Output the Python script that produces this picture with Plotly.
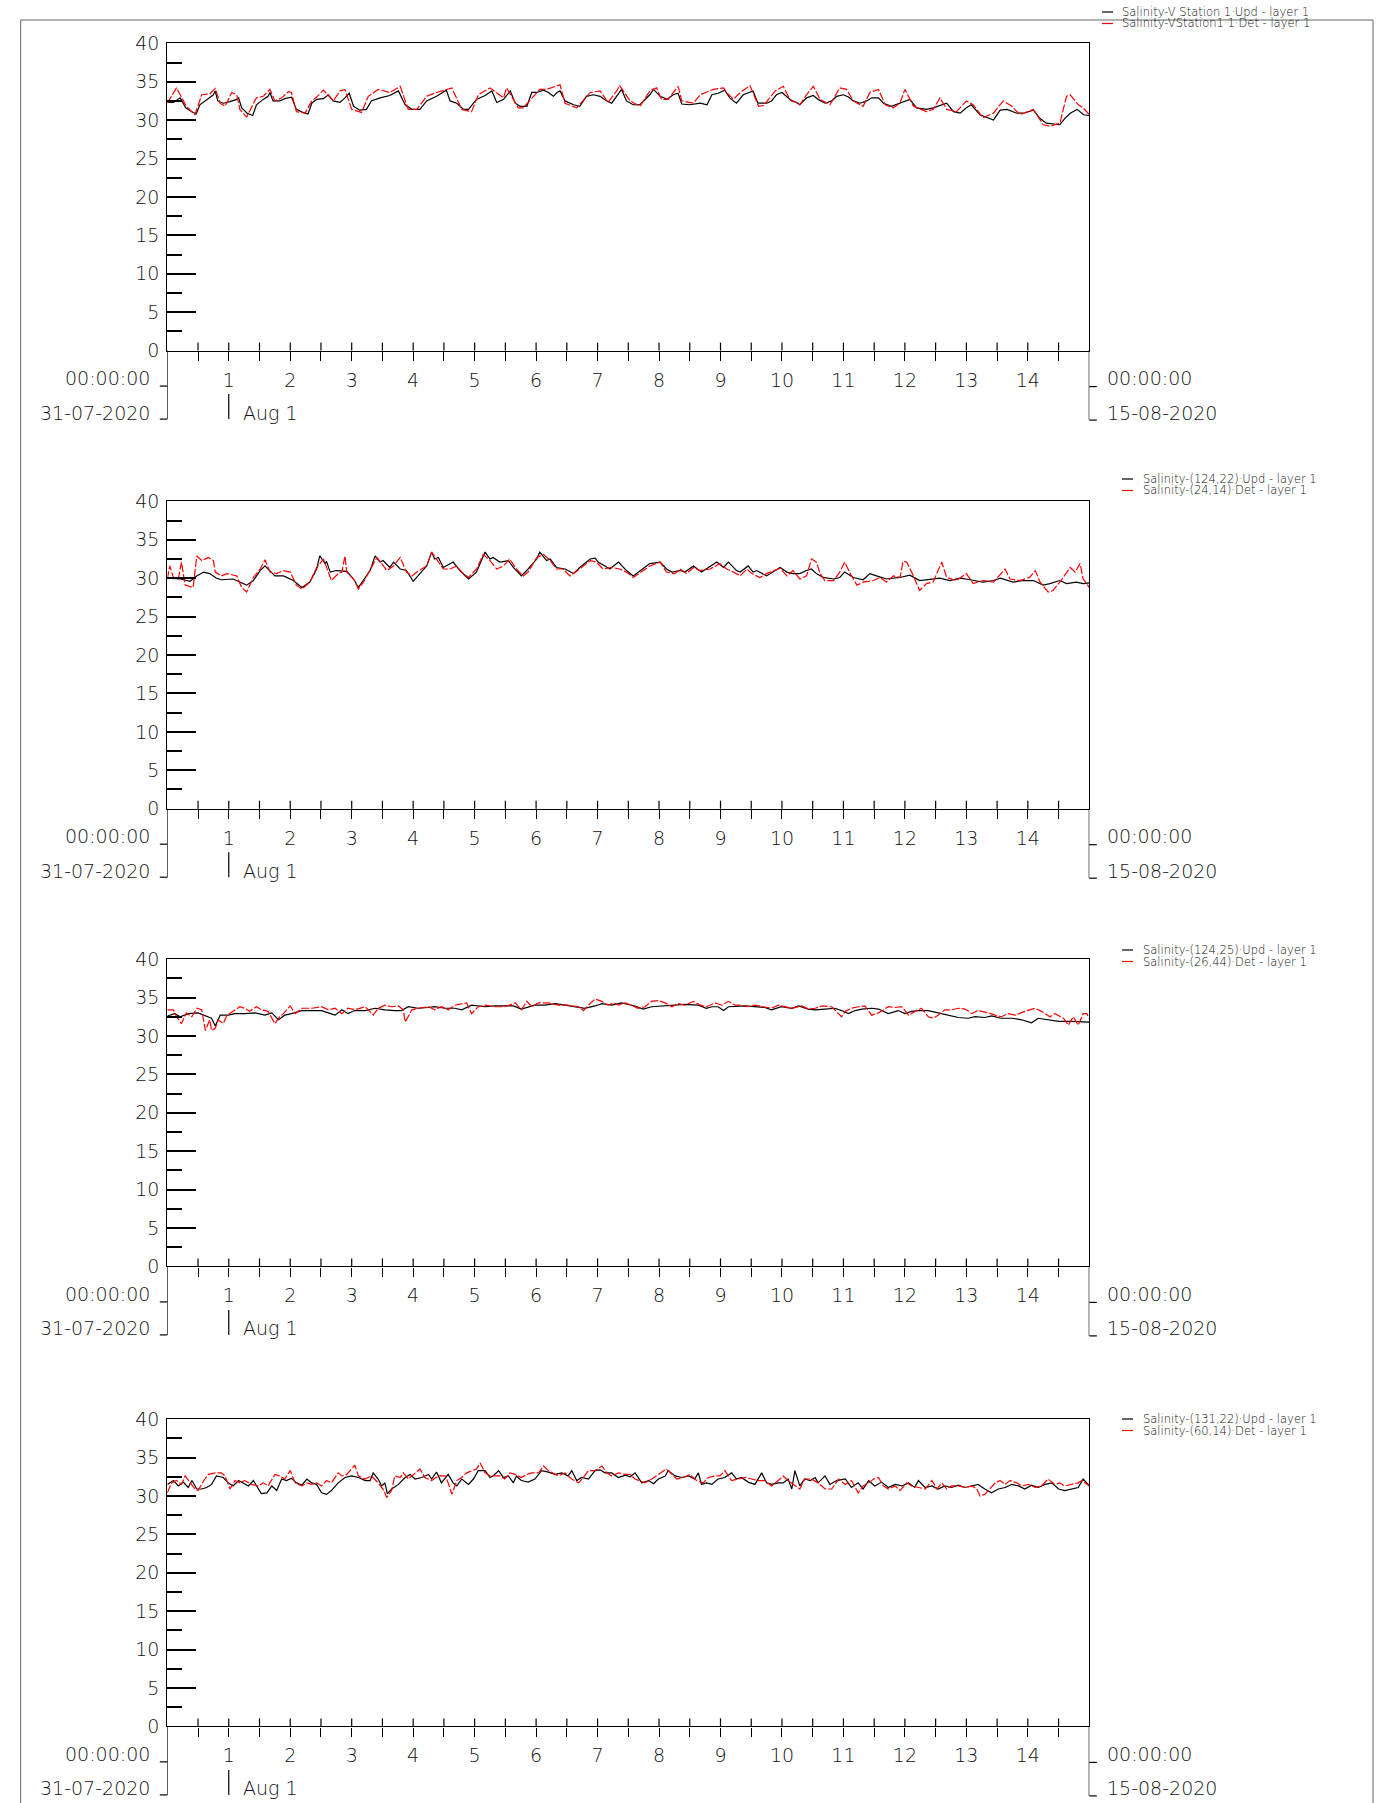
import plotly.graph_objects as go

W, H = 1381, 1803
FONT = "DejaVu Sans, sans-serif"

# ---------------- data (day offset from 31-07-2020 00:00, salinity) ----------------
p1_upd = [(0,32.3),(0.1,32.3),(0.21,32.9),(0.3,31.6),(0.4,31.1),(0.47,30.8),(0.53,32.0),(0.64,32.7),(0.75,33.3),(0.78,33.8),
 (0.82,32.5),(0.91,32.2),(1.02,32.4),(1.13,32.7),(1.16,32.9),(1.21,31.6),(1.30,30.9),(1.39,30.6),(1.45,32.0),(1.56,32.7),
 (1.64,33.1),(1.67,33.6),(1.72,32.5),(1.83,32.5),(1.91,32.8),(2.02,33.0),(2.10,31.4),(2.21,31.0),(2.29,30.8),(2.35,32.2),
 (2.43,32.7),(2.54,32.8),(2.62,33.3),(2.70,32.5),(2.81,32.3),(2.89,32.9),(2.96,33.5),(3.03,31.8),(3.13,31.3),(3.24,31.4),
 (3.32,32.5),(3.46,32.9),(3.62,33.2),(3.76,33.8),(3.87,32.0),(3.98,31.4),(4.11,31.4),(4.22,32.5),(4.38,33.1),(4.54,33.9),
 (4.60,32.5),(4.71,32.2),(4.82,31.4),(4.90,31.4),(5.03,32.7),(5.17,33.2),(5.28,33.8),(5.36,32.3),(5.47,32.7),(5.58,33.8),
 (5.66,32.2),(5.74,31.8),(5.85,31.8),(5.93,33.6),(6.01,33.6),(6.12,33.9),(6.20,33.6),(6.28,33.1),(6.34,33.6),(6.39,33.8),
 (6.47,32.5),(6.61,32.0),(6.71,31.8),(6.82,33.1),(6.93,33.3),(7.04,33.1),(7.15,32.5),(7.23,32.2),(7.31,33.1),(7.39,34.0),
 (7.47,32.5),(7.58,32.0),(7.69,32.0),(7.85,33.3),(7.91,34.0),(8.02,33.1),(8.13,32.7),(8.23,33.3),(8.31,33.5),(8.37,32.1),
 (8.5,32.0),(8.67,32.2),(8.78,32.0),(8.86,33.3),(8.96,33.5),(9.07,33.9),(9.15,32.9),(9.26,32.2),(9.37,33.3),(9.45,33.5),
 (9.53,33.8),(9.61,32.2),(9.75,32.2),(9.83,32.5),(9.91,33.3),(10.0,33.6),(10.08,33.1),(10.16,32.5),(10.24,32.3),(10.29,32.0),
 (10.4,32.9),(10.51,33.2),(10.59,32.7),(10.7,32.2),(10.81,32.5),(10.89,33.1),(11.0,33.3),(11.08,33.0),(11.16,32.5),(11.27,32.2),
 (11.38,32.5),(11.46,32.9),(11.57,32.9),(11.65,32.2),(11.78,31.8),(11.92,32.2),(12.08,32.7),(12.19,31.6),(12.35,31.4),(12.46,31.6),
 (12.57,31.9),(12.68,32.2),(12.79,31.1),(12.9,30.9),(13.0,31.6),(13.08,32.0),(13.22,30.7),(13.44,30.0),(13.55,31.3),(13.66,31.4),
 (13.82,30.9),(13.93,30.9),(14.09,31.3),(14.2,30.2),(14.3,29.6),(14.52,29.4),(14.6,30.2),(14.69,30.9),(14.8,31.4),(14.91,30.7),
 (15.0,30.6)]

p1_det = [(0,32.2),(0.15,34.2),(0.31,31.8),(0.45,30.7),(0.56,33.3),(0.69,33.4),(0.78,34.1),(0.86,32.2),(0.94,31.8),(1.05,33.6),
 (1.13,33.3),(1.18,31.4),(1.29,30.4),(1.45,32.9),(1.56,33.1),(1.67,34.0),(1.75,32.5),(1.86,32.9),(1.97,33.7),(2.02,33.6),
 (2.10,31.1),(2.24,30.9),(2.35,32.5),(2.43,33.0),(2.54,33.9),(2.70,32.5),(2.81,33.8),(2.89,34.0),(3.0,31.4),(3.16,31.0),
 (3.27,33.1),(3.43,34.0),(3.62,33.6),(3.79,34.4),(3.92,31.4),(4.06,31.4),(4.22,33.1),(4.38,33.6),(4.63,34.2),(4.79,31.4),
 (4.95,31.1),(5.06,33.3),(5.25,34.2),(5.47,32.9),(5.52,34.2),(5.71,31.6),(5.79,31.6),(5.95,33.1),(6.06,34.0),(6.17,34.0),
 (6.39,34.6),(6.47,32.2),(6.66,31.6),(6.88,33.6),(7.04,33.8),(7.17,32.3),(7.31,33.8),(7.36,34.5),(7.53,32.5),(7.69,31.8),
 (7.85,33.8),(7.96,34.2),(8.04,32.7),(8.15,32.7),(8.31,34.4),(8.37,32.5),(8.56,32.2),(8.67,33.3),(8.88,34.0),(9.05,34.2),
 (9.10,33.6),(9.21,32.7),(9.32,33.6),(9.48,34.5),(9.62,31.8),(9.70,31.9),(9.89,33.8),(10.02,34.4),(10.13,32.7),(10.29,32.0),
 (10.40,33.3),(10.51,34.4),(10.62,32.7),(10.78,32.0),(10.94,34.2),(11.05,34.0),(11.16,32.5),(11.32,31.8),(11.43,33.6),(11.57,34.0),
 (11.68,32.0),(11.81,31.6),(11.92,32.2),(12.0,34.0),(12.14,31.8),(12.35,31.1),(12.46,31.4),(12.57,32.9),(12.68,31.4),(12.84,31.1),
 (13.0,32.5),(13.11,32.0),(13.27,30.3),(13.44,30.9),(13.6,32.5),(13.74,31.8),(13.87,30.7),(14.09,31.4),(14.25,29.4),(14.36,29.2),
 (14.52,29.6),(14.63,33.1),(14.69,33.3),(14.82,32.0),(14.9,31.6),(15.0,30.7)]

p2_upd = [(0,30.0),(0.21,29.9),(0.37,29.6),(0.48,30.3),(0.59,30.8),(0.69,30.6),(0.80,30.0),(0.88,29.8),(1.07,29.9),(1.29,29.1),
 (1.40,29.7),(1.51,31.0),(1.59,31.6),(1.67,31.0),(1.75,30.3),(1.89,30.3),(2.05,29.7),(2.19,28.8),(2.32,29.5),(2.43,31.2),
 (2.48,32.9),(2.57,31.9),(2.59,32.2),(2.65,30.8),(2.75,31.0),(2.92,30.9),(3.03,29.9),(3.11,28.8),(3.19,29.7),(3.30,31.0),
 (3.38,32.9),(3.46,32.1),(3.51,32.3),(3.62,31.4),(3.68,32.1),(3.79,31.2),(3.89,31.0),(4.0,29.6),(4.11,30.6),(4.22,31.6),
 (4.30,33.4),(4.35,32.5),(4.41,32.7),(4.49,31.4),(4.65,32.1),(4.76,31.0),(4.90,29.9),(5.03,30.8),(5.17,33.4),(5.25,32.5),
 (5.30,32.7),(5.41,32.1),(5.55,32.3),(5.63,31.4),(5.76,30.3),(5.87,31.2),(6.01,32.5),(6.06,33.4),(6.17,32.3),(6.23,32.5),
 (6.33,31.4),(6.47,31.2),(6.61,30.6),(6.71,31.4),(6.88,32.5),(6.96,32.6),(7.01,32.1),(7.12,31.6),(7.20,31.2),(7.34,32.1),
 (7.47,31.0),(7.58,30.3),(7.74,31.2),(7.85,31.9),(8.02,32.1),(8.12,31.2),(8.21,30.8),(8.34,31.0),(8.42,30.8),(8.56,31.6),
 (8.69,30.8),(8.94,32.1),(9.05,31.4),(9.13,32.1),(9.26,31.0),(9.32,30.8),(9.45,31.6),(9.53,30.8),(9.59,31.0),(9.75,30.3),
 (9.97,31.4),(10.08,30.8),(10.18,30.6),(10.29,30.6),(10.4,31.0),(10.48,31.2),(10.56,30.6),(10.67,30.1),(10.84,29.9),(10.94,30.1),
 (11.02,30.8),(11.16,30.1),(11.32,29.8),(11.43,30.6),(11.54,30.3),(11.70,29.9),(11.92,30.1),(12.08,30.4),(12.24,29.7),(12.46,29.9),
 (12.57,30.0),(12.73,29.7),(12.9,30.0),(13.06,29.8),(13.27,29.5),(13.44,29.7),(13.55,30.0),(13.76,29.5),(13.93,29.7),(14.09,29.7),
 (14.25,29.1),(14.36,29.3),(14.52,29.7),(14.63,29.3),(14.79,29.5),(14.9,29.3),(15.0,29.4)]

p2_det = [(0,29.9),(0.04,31.6),(0.10,30.1),(0.18,29.9),(0.23,32.1),(0.29,29.1),(0.42,28.8),(0.48,32.9),(0.56,32.3),(0.67,32.7),
 (0.75,32.3),(0.78,30.8),(0.88,30.3),(0.97,30.6),(1.13,30.3),(1.21,28.8),(1.29,28.2),(1.40,30.1),(1.51,31.2),(1.59,32.4),
 (1.67,30.8),(1.78,30.6),(1.89,31.0),(2.0,30.8),(2.10,29.1),(2.19,28.6),(2.32,29.5),(2.43,31.4),(2.54,32.5),(2.62,30.8),
 (2.67,29.7),(2.78,30.6),(2.84,30.8),(2.89,32.9),(2.92,30.8),(3.03,29.9),(3.11,28.6),(3.19,29.5),(3.30,31.2),(3.41,32.7),
 (3.49,31.9),(3.57,31.0),(3.68,31.6),(3.79,32.7),(3.89,30.8),(3.98,30.3),(4.06,30.8),(4.22,31.6),(4.30,33.4),(4.38,32.5),
 (4.49,31.2),(4.60,31.2),(4.71,31.6),(4.79,30.8),(4.90,30.1),(5.03,31.2),(5.14,33.1),(5.25,32.3),(5.36,31.2),(5.47,31.6),
 (5.57,32.5),(5.68,31.2),(5.79,30.3),(5.87,30.8),(6.01,32.7),(6.12,33.1),(6.23,32.3),(6.33,31.2),(6.44,31.2),(6.55,30.3),
 (6.71,31.2),(6.88,32.3),(6.98,32.1),(7.09,31.2),(7.23,31.4),(7.36,31.2),(7.47,30.8),(7.58,30.1),(7.74,31.0),(7.85,31.6),
 (8.02,32.1),(8.12,30.8),(8.26,30.6),(8.34,31.2),(8.45,30.6),(8.56,31.4),(8.67,31.0),(8.83,31.2),(8.99,31.9),(9.10,31.2),
 (9.21,30.8),(9.32,30.3),(9.43,31.2),(9.51,30.6),(9.64,30.1),(9.75,30.6),(9.97,31.3),(10.08,30.3),(10.18,31.0),(10.29,29.9),
 (10.40,30.3),(10.48,32.5),(10.56,32.1),(10.62,30.6),(10.70,29.7),(10.84,29.7),(10.94,30.8),(11.02,32.1),(11.11,30.6),(11.22,29.1),
 (11.32,29.5),(11.49,29.7),(11.59,30.1),(11.70,29.5),(11.81,30.3),(11.92,30.1),(11.97,32.2),(12.03,32.1),(12.11,30.8),(12.24,28.4),
 (12.35,29.3),(12.46,29.5),(12.54,31.0),(12.6,32.1),(12.68,30.1),(12.84,29.7),(13.0,30.6),(13.11,29.3),(13.27,29.7),(13.44,29.5),
 (13.63,31.2),(13.71,29.9),(13.87,29.7),(14.03,30.1),(14.12,31.0),(14.2,29.5),(14.33,28.2),(14.41,28.4),(14.52,29.5),(14.69,31.4),
 (14.77,30.8),(14.85,31.9),(14.9,29.9),(15.0,28.8)]

p3_upd = [(0,32.6),(0.12,32.9),(0.21,32.5),(0.34,32.9),(0.50,33.0),(0.61,32.7),(0.72,32.3),(0.78,31.3),(0.86,32.7),(0.99,32.7),
 (1.10,32.9),(1.26,32.9),(1.43,33.0),(1.59,32.7),(1.70,33.0),(1.81,32.1),(1.91,32.7),(2.02,32.9),(2.19,33.3),(2.35,33.3),
 (2.51,33.3),(2.62,33.0),(2.73,32.7),(2.84,33.4),(2.94,32.9),(3.05,33.3),(3.22,33.3),(3.38,33.6),(3.54,33.4),(3.70,33.3),
 (3.81,33.3),(3.92,33.8),(4.08,33.6),(4.25,33.7),(4.35,33.8),(4.52,33.6),(4.68,33.6),(4.79,33.4),(4.95,34.0),(5.17,33.8),
 (5.33,33.9),(5.49,33.9),(5.63,33.9),(5.76,33.5),(5.87,33.8),(5.98,34.0),(6.14,34.0),(6.31,34.2),(6.47,34.0),(6.63,33.8),
 (6.79,33.6),(6.96,33.9),(7.07,34.2),(7.23,34.0),(7.39,34.3),(7.61,33.9),(7.74,33.5),(7.88,33.8),(8.10,33.9),(8.21,34.0),
 (8.42,34.1),(8.64,34.0),(8.77,33.6),(8.86,33.8),(8.96,33.8),(9.05,33.3),(9.13,33.8),(9.4,33.9),(9.56,33.8),(9.72,33.7),
 (9.83,33.4),(9.99,33.8),(10.16,33.6),(10.27,33.9),(10.43,33.5),(10.54,33.4),(10.70,33.5),(10.86,33.6),(10.97,33.3),(11.08,32.9),
 (11.19,33.3),(11.3,33.5),(11.46,33.6),(11.57,33.5),(11.73,32.9),(11.89,33.3),(12.0,32.9),(12.11,33.2),(12.22,33.3),(12.38,33.3),
 (12.54,33.0),(12.71,32.7),(12.87,32.4),(13.03,32.3),(13.14,32.5),(13.30,32.4),(13.41,32.6),(13.57,32.3),(13.74,32.3),(13.9,32.1),
 (14.06,31.7),(14.17,32.3),(14.33,32.1),(14.5,31.9),(14.71,31.9),(14.93,31.8),(15.0,31.8)]

p3_det = [(0,33.4),(0.10,33.4),(0.15,32.5),(0.23,31.6),(0.31,33.0),(0.40,32.5),(0.48,33.6),(0.56,33.4),(0.60,31.6),(0.62,30.7),
 (0.69,32.1),(0.72,30.7),(0.78,31.0),(0.83,32.1),(0.91,31.6),(0.97,32.7),(1.07,33.2),(1.18,33.8),(1.26,33.6),(1.34,33.2),
 (1.45,33.8),(1.53,33.4),(1.64,33.2),(1.75,31.6),(1.83,32.5),(1.89,32.9),(2.0,33.9),(2.08,32.9),(2.19,33.6),(2.35,33.6),
 (2.51,33.8),(2.62,33.4),(2.73,33.6),(2.84,32.9),(2.94,33.6),(3.05,33.4),(3.22,33.8),(3.35,32.7),(3.43,33.6),(3.54,34.0),
 (3.65,33.8),(3.76,33.9),(3.84,33.4),(3.87,31.8),(3.98,33.4),(4.08,33.6),(4.25,33.8),(4.35,33.4),(4.46,33.8),(4.57,33.4),
 (4.68,34.0),(4.87,34.3),(4.95,32.9),(5.06,33.8),(5.17,34.0),(5.33,33.8),(5.49,33.8),(5.66,34.3),(5.76,33.4),(5.85,34.5),
 (5.93,33.8),(6.04,34.3),(6.20,34.3),(6.36,34.0),(6.52,34.0),(6.69,33.8),(6.77,33.3),(6.85,34.0),(6.96,34.8),(7.07,34.5),
 (7.17,34.0),(7.26,34.3),(7.34,34.0),(7.45,34.3),(7.55,34.0),(7.66,33.6),(7.77,33.8),(7.88,34.5),(7.99,34.6),(8.10,34.3),
 (8.21,33.8),(8.31,34.2),(8.42,34.0),(8.56,34.5),(8.67,34.0),(8.77,33.8),(8.91,34.3),(9.02,34.0),(9.13,34.5),(9.24,34.0),
 (9.34,34.0),(9.45,33.8),(9.56,34.0),(9.72,33.8),(9.83,33.6),(9.94,34.0),(10.05,33.8),(10.16,33.6),(10.32,33.9),(10.43,33.5),
 (10.54,33.6),(10.65,33.9),(10.81,33.8),(10.92,32.9),(10.97,32.5),(11.03,33.2),(11.13,33.6),(11.24,33.8),(11.35,33.9),(11.46,32.7),
 (11.57,33.0),(11.73,33.8),(11.84,33.7),(11.95,33.8),(12.06,32.7),(12.17,33.2),(12.27,33.6),(12.38,32.5),(12.46,32.3),(12.54,32.7),
 (12.65,33.4),(12.76,33.4),(12.87,33.6),(12.98,33.5),(13.09,32.9),(13.19,33.3),(13.36,33.0),(13.47,32.7),(13.57,32.5),(13.68,32.9),
 (13.79,32.7),(13.95,33.2),(14.12,33.6),(14.22,33.2),(14.36,32.5),(14.44,32.9),(14.58,32.3),(14.66,31.4),(14.74,32.5),(14.82,31.4),
 (14.9,32.9),(14.96,32.9),(15.0,32.3)]

p4_upd = [(0,31.5),(0.10,32.0),(0.18,31.3),(0.26,31.8),(0.34,31.1),(0.40,32.0),(0.48,30.9),(0.56,30.9),(0.64,31.1),(0.72,31.5),
 (0.80,32.6),(0.91,32.4),(0.99,31.7),(1.07,31.3),(1.16,32.0),(1.24,31.7),(1.32,31.3),(1.40,32.0),(1.48,30.9),(1.53,30.3),
 (1.62,30.4),(1.70,31.3),(1.78,30.7),(1.86,32.2),(1.94,32.0),(2.02,32.3),(2.10,31.7),(2.19,31.4),(2.27,32.2),(2.35,31.7),
 (2.43,31.5),(2.51,30.4),(2.59,30.2),(2.67,30.7),(2.78,31.7),(2.89,32.4),(3.0,32.6),(3.11,32.4),(3.22,32.0),(3.30,32.0),
 (3.35,33.0),(3.43,32.2),(3.49,31.3),(3.54,31.7),(3.58,30.3),(3.65,30.9),(3.76,31.5),(3.87,32.4),(3.95,32.8),(4.03,32.2),
 (4.14,32.4),(4.25,32.8),(4.30,32.2),(4.38,33.1),(4.46,31.7),(4.57,32.8),(4.65,31.7),(4.71,31.3),(4.79,32.2),(4.90,31.5),
 (4.98,32.2),(5.06,33.3),(5.17,33.3),(5.25,32.4),(5.30,32.6),(5.39,33.3),(5.47,32.4),(5.55,32.6),(5.63,31.7),(5.68,32.6),
 (5.76,32.0),(5.87,31.8),(5.98,32.2),(6.09,33.3),(6.20,33.1),(6.31,32.8),(6.42,33.0),(6.52,32.6),(6.58,33.3),(6.66,32.0),
 (6.74,32.4),(6.85,32.2),(6.96,33.3),(7.04,33.4),(7.12,33.0),(7.23,33.0),(7.34,32.4),(7.45,32.7),(7.53,32.5),(7.61,33.0),
 (7.72,31.7),(7.83,32.0),(7.91,31.6),(7.99,32.2),(8.10,32.6),(8.15,33.3),(8.26,32.6),(8.37,32.4),(8.48,32.6),(8.58,32.2),
 (8.64,33.0),(8.69,31.5),(8.77,31.7),(8.86,31.5),(8.96,32.2),(9.07,32.4),(9.18,33.0),(9.26,32.2),(9.34,32.4),(9.45,31.8),
 (9.56,31.5),(9.67,33.0),(9.75,31.7),(9.83,31.5),(9.94,31.7),(10.02,31.7),(10.10,32.2),(10.16,30.9),(10.21,33.3),(10.29,31.3),
 (10.37,32.2),(10.46,32.0),(10.54,32.4),(10.59,31.7),(10.70,32.6),(10.78,31.5),(10.89,32.0),(11.03,32.2),(11.13,31.1),(11.24,31.7),
 (11.32,30.9),(11.41,32.0),(11.51,31.3),(11.62,31.8),(11.73,31.1),(11.84,31.5),(11.95,31.3),(12.06,31.7),(12.16,31.1),(12.22,32.0),
 (12.33,31.1),(12.44,31.3),(12.54,30.9),(12.65,31.3),(12.76,31.1),(12.87,31.4),(12.98,31.1),(13.09,31.3),(13.19,31.5),(13.30,30.9),
 (13.41,30.4),(13.52,30.9),(13.63,31.1),(13.74,31.5),(13.85,31.3),(13.95,30.9),(14.06,31.4),(14.17,31.1),(14.28,31.5),(14.39,31.7),
 (14.5,30.9),(14.6,30.7),(14.71,30.9),(14.82,31.1),(14.9,32.2),(15.0,31.3)]

p4_det = [(0,30.4),(0.07,31.7),(0.15,32.0),(0.23,31.5),(0.29,32.6),(0.37,31.7),(0.45,30.9),(0.50,30.7),(0.61,32.2),(0.67,32.8),
 (0.78,33.0),(0.88,33.0),(0.94,32.6),(1.02,30.9),(1.10,32.0),(1.18,31.7),(1.26,32.0),(1.37,31.5),(1.48,31.3),(1.56,31.7),
 (1.64,31.3),(1.75,32.8),(1.83,32.6),(1.91,32.2),(2.0,33.3),(2.08,31.7),(2.19,31.3),(2.27,31.7),(2.35,31.5),(2.43,31.7),
 (2.51,31.3),(2.59,32.0),(2.67,31.7),(2.78,33.0),(2.84,32.6),(2.92,32.8),(3.0,33.5),(3.05,34.0),(3.11,32.6),(3.22,32.2),
 (3.32,32.6),(3.43,31.7),(3.51,30.9),(3.57,29.8),(3.65,30.7),(3.70,32.6),(3.79,32.4),(3.84,33.0),(3.92,32.2),(4.03,33.0),
 (4.11,33.5),(4.19,32.4),(4.30,32.0),(4.41,32.6),(4.52,32.6),(4.57,31.7),(4.63,30.2),(4.71,32.0),(4.79,32.4),(4.87,33.0),
 (4.95,33.3),(5.03,33.5),(5.09,34.3),(5.17,33.0),(5.25,32.6),(5.41,32.6),(5.49,32.2),(5.57,33.0),(5.66,32.8),(5.76,32.4),
 (5.85,32.8),(5.93,33.0),(6.04,33.0),(6.12,33.9),(6.20,33.3),(6.28,33.0),(6.36,32.6),(6.47,33.0),(6.58,32.2),(6.69,31.7),
 (6.77,32.4),(6.85,33.3),(6.96,33.3),(7.07,33.9),(7.15,33.0),(7.23,32.6),(7.34,33.0),(7.45,32.8),(7.53,32.8),(7.61,32.2),
 (7.69,32.0),(7.77,31.7),(7.88,32.2),(7.96,32.6),(8.04,33.0),(8.12,33.5),(8.21,32.8),(8.29,32.2),(8.40,32.4),(8.50,32.8),
 (8.61,32.0),(8.72,31.7),(8.80,32.4),(8.91,32.6),(8.99,32.6),(9.07,33.3),(9.18,32.0),(9.29,32.2),(9.40,32.4),(9.51,32.2),
 (9.62,32.0),(9.72,32.0),(9.83,31.3),(9.94,32.0),(10.02,32.6),(10.10,32.0),(10.21,31.3),(10.29,30.9),(10.37,32.2),(10.48,32.2),
 (10.59,31.7),(10.70,30.9),(10.81,30.9),(10.92,32.2),(11.03,31.5),(11.13,32.0),(11.24,30.4),(11.32,31.3),(11.41,31.7),(11.49,32.2),
 (11.57,32.4),(11.65,31.3),(11.73,30.9),(11.84,31.3),(11.92,30.7),(12.03,31.7),(12.11,31.3),(12.22,31.1),(12.33,30.9),(12.44,32.0),
 (12.52,30.9),(12.6,31.7),(12.68,30.9),(12.76,31.3),(12.87,31.3),(12.98,31.1),(13.09,31.3),(13.17,30.9),(13.22,30.0),(13.30,30.2),
 (13.38,30.9),(13.47,31.7),(13.55,32.0),(13.63,31.5),(13.71,32.0),(13.82,31.7),(13.90,31.3),(14.01,31.5),(14.12,31.1),(14.22,31.3),
 (14.33,32.2),(14.44,31.5),(14.52,31.7),(14.6,31.3),(14.71,31.5),(14.82,31.7),(14.88,32.0),(15.0,31.3)]

upd_names = ["Salinity-V Station 1·Upd - layer 1", "Salinity-(124,22)·Upd - layer 1",
             "Salinity-(124,25)·Upd - layer 1", "Salinity-(131,22)·Upd - layer 1"]
det_names = ["Salinity-VStation1·1·Det - layer 1", "Salinity-(24,14)·Det - layer 1",
             "Salinity-(26,44)·Det - layer 1", "Salinity-(60,14)·Det - layer 1"]

y_tick_vals = [0, 5, 10, 15, 20, 25, 30, 35, 40]
y_minor_vals = [2.5, 7.5, 12.5, 17.5, 22.5, 27.5, 32.5, 37.5]
x_tick_vals = [0.5, 1, 1.5, 2, 2.5, 3, 3.5, 4, 4.5, 5, 5.5, 6, 6.5, 7, 7.5, 8, 8.5, 9, 9.5, 10,
               10.5, 11, 11.5, 12, 12.5, 13, 13.5, 14, 14.5]
x_tick_text = ["", "1", "", "2", "", "3", "", "4", "", "5", "", "6", "", "7", "", "8", "", "9", "",
               "10", "", "11", "", "12", "", "13", "", "14", ""]
start_time, start_date = "00:00:00", "31-07-2020"
end_time, end_date = "00:00:00", "15-08-2020"
month_mark = "Aug 1"

series = [(p1_upd, p1_det), (p2_upd, p2_det), (p3_upd, p3_det), (p4_upd, p4_det)]

# ---------------- layout geometry (pixels) ----------------
PL, PR = 167.3, 1089.3
TOPS = [43.3, 501.4, 959.1, 1419.1]
PH = 307.3
LEG = [(1102, 1120, 12, 23.5), (1122, 1141, 479, 490.5), (1122, 1141, 950, 961.5), (1122, 1141, 1419, 1430.5)]


def px(x):
    return x / W


def py(y):
    return 1 - y / H


fig = go.Figure()
shapes, annos = [], []
layout = {}
tf = dict(family=FONT, size=19, color="#111", weight=200)
lf = dict(family=FONT, size=11.5, color="#111", weight=200)

for i, (upd, det) in enumerate(series):
    k = i + 1
    xa = "x" if k == 1 else f"x{k}"
    ya = "y" if k == 1 else f"y{k}"
    top = TOPS[i]
    bot = top + PH
    fig.add_trace(go.Scatter(x=[p[0] for p in upd], y=[p[1] for p in upd], mode="lines",
                             name=upd_names[i], xaxis=xa, yaxis=ya, showlegend=False,
                             line=dict(color="black", width=1.2)))
    fig.add_trace(go.Scatter(x=[p[0] for p in det], y=[p[1] for p in det], mode="lines",
                             name=det_names[i], xaxis=xa, yaxis=ya, showlegend=False,
                             line=dict(color="#ff0000", width=1.2, dash="8px,2px")))
    layout[f"xaxis{'' if k == 1 else k}"] = dict(
        domain=[px(PL), px(PR)], anchor=ya, range=[0, 15], showgrid=False, zeroline=False,
        showline=True, linecolor="black", linewidth=1.3, mirror=True, automargin=False,
        tickmode="array", tickvals=x_tick_vals, ticktext=x_tick_text,
        ticks="outside", ticklen=9, tickwidth=1.2, tickcolor="black",
        ticklabelstandoff=3, tickfont=tf)
    layout[f"yaxis{'' if k == 1 else k}"] = dict(
        domain=[py(bot), py(top)], anchor=xa, range=[0, 40], showgrid=False, zeroline=False,
        showline=True, linecolor="black", linewidth=1.3, mirror=True, automargin=False,
        tickmode="array", tickvals=y_tick_vals, ticks="inside", ticklen=29, tickwidth=1.5,
        tickcolor="black", ticklabelstandoff=3,
        minor=dict(tickmode="array", tickvals=y_minor_vals, ticks="inside", ticklen=15,
                   tickwidth=1.5, tickcolor="black"),
        tickfont=tf)

    # inner half of the crossing x ticks
    for t in x_tick_vals:
        shapes.append(dict(type="line", xref=xa, yref=f"{ya} domain", x0=t, x1=t, y0=0, y1=8 / PH,
                           line=dict(color="black", width=1.2)))
    # left bracket
    shapes.append(dict(type="line", xref=xa, yref="paper", x0=0, x1=0, y0=py(bot), y1=py(bot + 68.5),
                       line=dict(color="black", width=1.2)))
    for yy in (bot + 35.5, bot + 68.5):
        shapes.append(dict(type="line", xref="paper", yref="paper", x0=px(PL - 7.5), x1=px(PL),
                           y0=py(yy), y1=py(yy), line=dict(color="black", width=1.2)))
    # right bracket
    shapes.append(dict(type="line", xref=xa, yref="paper", x0=15, x1=15, y0=py(bot), y1=py(bot + 69.5),
                       line=dict(color="black", width=1.2)))
    for yy in (bot + 36, bot + 69.5):
        shapes.append(dict(type="line", xref="paper", yref="paper", x0=px(PR), x1=px(PR + 7.5),
                           y0=py(yy), y1=py(yy), line=dict(color="black", width=1.2)))
    # month marker
    shapes.append(dict(type="line", xref=xa, yref="paper", x0=1, x1=1, y0=py(bot + 43.5), y1=py(bot + 68.5),
                       line=dict(color="black", width=1.2)))

    annos += [
        dict(xref="paper", yref="paper", x=px(PL - 15), y=py(bot + 27.5), text=start_time,
             xanchor="right", yanchor="middle", showarrow=False, font=tf),
        dict(xref="paper", yref="paper", x=px(PL - 15), y=py(bot + 62), text=start_date,
             xanchor="right", yanchor="middle", showarrow=False, font=tf),
        dict(xref=xa, yref="paper", x=1, y=py(bot + 62), text=month_mark, xshift=12,
             xanchor="left", yanchor="middle", showarrow=False, font=tf),
        dict(xref="paper", yref="paper", x=px(PR + 16), y=py(bot + 27.5), text=end_time,
             xanchor="left", yanchor="middle", showarrow=False, font=tf),
        dict(xref="paper", yref="paper", x=px(PR + 16), y=py(bot + 62), text=end_date,
             xanchor="left", yanchor="middle", showarrow=False, font=tf),
    ]

    # legend (per panel)
    sx, tx, r1, r2 = LEG[i]
    for yy, col, txt in ((r1, "black", upd_names[i]), (r2, "#ff0000", det_names[i])):
        shapes.append(dict(type="line", xref="paper", yref="paper", x0=px(sx), x1=px(sx + 11),
                           y0=py(yy), y1=py(yy), line=dict(color=col, width=1.2)))
        annos.append(dict(xref="paper", yref="paper", x=px(tx), y=py(yy), text=txt,
                          xanchor="left", yanchor="middle", showarrow=False, font=lf))

# outer frame
shapes.append(dict(type="rect", xref="paper", yref="paper", x0=px(20.7), x1=px(1373), y0=py(1830), y1=py(20),
                   line=dict(color="#666", width=1), layer="below"))

fig.update_layout(width=W, height=H, autosize=False,
                  margin=dict(l=0, r=0, t=0, b=0, pad=0, autoexpand=False),
                  paper_bgcolor="white", plot_bgcolor="rgba(0,0,0,0)", showlegend=False,
                  shapes=shapes, annotations=annos, **layout)

# place the figure at the page origin (no default body margin), no mode bar
fig.write_html("out.html", config={"displayModeBar": False},
               post_script="document.body.style.margin='0';")
